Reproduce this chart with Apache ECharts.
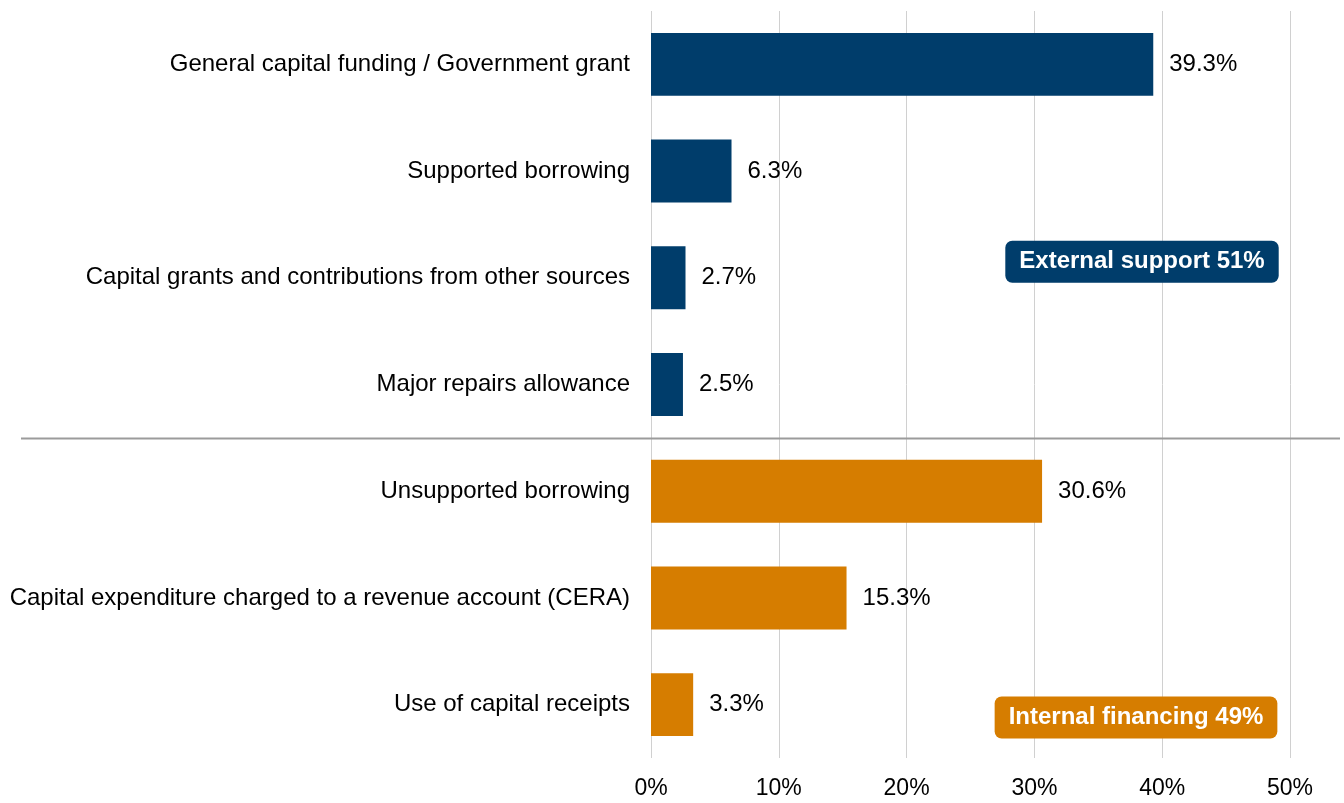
<!DOCTYPE html>
<html>
<head>
<meta charset="utf-8">
<script src="https://cdn.jsdelivr.net/npm/echarts@6/dist/echarts.min.js"></script>
<style>
  html, body { margin: 0; padding: 0; background: #fff; }
  #chart { width: 1344px; height: 803px; }
</style>
</head>
<body>
<div id="chart"></div>
<script>
// Sources of capital funding, share of total (%)
const categories = [
  'General capital funding / Government grant',
  'Supported borrowing',
  'Capital grants and contributions from other sources',
  'Major repairs allowance',
  'Unsupported borrowing',
  'Capital expenditure charged to a revenue account (CERA)',
  'Use of capital receipts'
];
const values = [39.3, 6.3, 2.7, 2.5, 30.6, 15.3, 3.3];
// group of each source: external support vs internal financing
const groups = ['external', 'external', 'external', 'external', 'internal', 'internal', 'internal'];
const groupLabels = { external: 'External support 51%', internal: 'Internal financing 49%' };
const groupColors = { external: '#003D6B', internal: '#D67D00' };
const xTicks = [0, 10, 20, 30, 40, 50];

const FONT = '"Liberation Sans", Arial, sans-serif';
const chart = echarts.init(document.getElementById('chart'));

chart.setOption({
  animation: false,
  grid: { left: 651, right: 54, top: 11, bottom: 45, containLabel: false },
  xAxis: {
    type: 'value',
    min: xTicks[0],
    max: xTicks[xTicks.length - 1],
    interval: 10,
    axisLine: { show: false },
    axisTick: { show: false },
    axisLabel: { formatter: '{value}%', fontFamily: FONT, fontSize: 23, color: '#000', margin: 19 },
    splitLine: { show: true, lineStyle: { color: '#D0D0D0', width: 1 } }
  },
  yAxis: {
    type: 'category',
    inverse: true,
    data: categories,
    axisLine: { show: false },
    axisTick: { show: false },
    axisLabel: { fontFamily: FONT, fontSize: 24, color: '#000', margin: 21, padding: [4, 0, 0, 0] }
  },
  series: [{
    type: 'bar',
    data: values.map((v, i) => ({ value: v, itemStyle: { color: groupColors[groups[i]] } })),
    barCategoryGap: '41%',
    label: {
      show: true,
      position: 'right',
      distance: 16,
      padding: [4, 0, 0, 0],
      formatter: p => p.value.toFixed(1) + '%',
      fontFamily: FONT,
      fontSize: 24,
      color: '#000'
    }
  }]
});

// Divider between the two groups and the group summary badges
function drawOverlay() {
  const lastExternal = groups.lastIndexOf('external');
  const yA = chart.convertToPixel({ yAxisIndex: 0 }, categories[lastExternal]);
  const yB = chart.convertToPixel({ yAxisIndex: 0 }, categories[lastExternal + 1]);
  const ySep = Math.round((yA + yB) / 2) + 0.5;

  const badge = (text, color, xVal, yCat) => {
    const cx = chart.convertToPixel({ xAxisIndex: 0 }, xVal);
    const cy = chart.convertToPixel({ yAxisIndex: 0 }, categories[0]) +
      yCat * (yB - yA);
    return {
      type: 'text',
      x: cx, y: cy,
      z: 10,
      style: {
        text: text,
        fill: '#fff',
        font: 'bold 24px ' + FONT,
        align: 'center',
        verticalAlign: 'middle',
        backgroundColor: color,
        borderRadius: 7,
        padding: [9, 14, 9, 14]
      }
    };
  };

  chart.setOption({
    graphic: [
      {
        type: 'line',
        shape: { x1: 21, y1: ySep, x2: 1340, y2: ySep },
        style: { stroke: '#9B9B9B', lineWidth: 2 },
        z: 5
      },
      badge(groupLabels.external, groupColors.external, 38.42, 1.85),
      badge(groupLabels.internal, groupColors.internal, 37.95, 6.12)
    ]
  });
}
drawOverlay();
</script>
</body>
</html>
